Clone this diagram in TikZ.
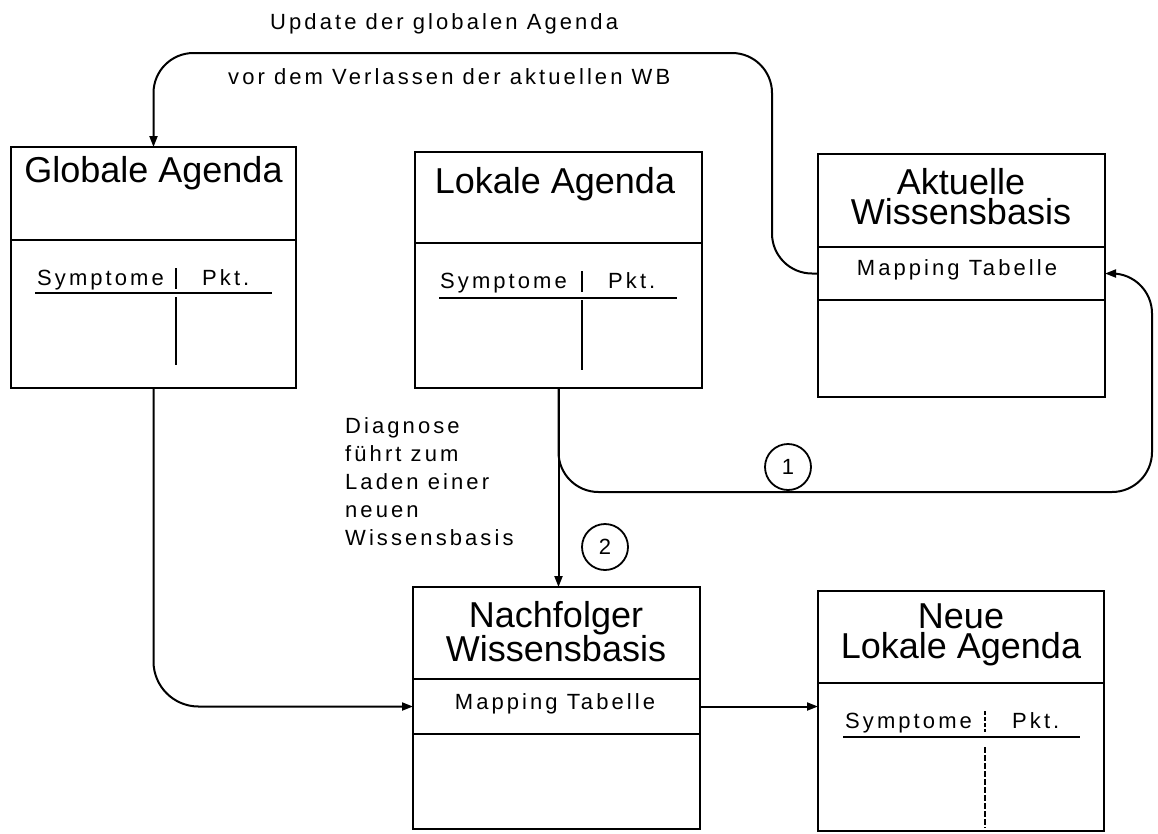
\documentclass[tikz,border=0pt]{standalone}
\usepackage{fontspec}
\setmainfont{Liberation Sans}
\newfontfamily\smallsp[LetterSpace=14]{Liberation Sans}
\usetikzlibrary{arrows.meta}
\begin{document}
\begin{tikzpicture}[x=1pt,y=-1pt,
  sec/.style={draw, line width=2.2pt, anchor=north west, inner sep=0pt, outer sep=0pt},
  ttl/.style={font=\fontsize{36}{30}\selectfont, align=center, inner sep=0pt},
  lbl/.style={font=\smallsp\fontsize{22}{28}\selectfont, inner sep=0pt},
  conn/.style={line width=2pt, rounded corners=40pt},
  arr/.style={-{Triangle[length=11pt,width=8pt]}},
  num/.style={draw, circle, line width=1.8pt, minimum size=46pt, inner sep=0pt, font=\fontsize{22}{26}\selectfont},
  rulel/.style={line width=1.6pt},
  sepl/.style={line width=1.1pt}]
\useasboundingbox (0,0) rectangle (1158,833);

% Globale Agenda
\node[sec, minimum width=285pt, minimum height=93pt] (GAt) at (11,147) {};
\node[sec, minimum width=285pt, minimum height=148pt] (GAb) at (11,240) {};
\node[ttl, anchor=base] (GAtt) at (153.5,182) {Globale Agenda};
\node[lbl, anchor=base west] (GAs) at (37,285) {Symptome};
\node[lbl, anchor=base west] (GAp) at (202,285) {Pkt.};
\draw[sepl] (176,268) -- (176,289);
\draw[rulel] (35,293) -- (272,293);
\draw[sepl] (176,297) -- (176,365);

% Lokale Agenda
\node[sec, minimum width=287pt, minimum height=91pt] (LAt) at (415,152) {};
\node[sec, minimum width=287pt, minimum height=145pt] (LAb) at (415,243) {};
\node[ttl, anchor=base] (LAtt) at (555,193) {Lokale Agenda};
\node[lbl, anchor=base west] (LAs) at (440,288) {Symptome};
\node[lbl, anchor=base west] (LAp) at (608,288) {Pkt.};
\draw[sepl] (582,271) -- (582,292);
\draw[rulel] (439,298) -- (677,298);
\draw[sepl] (582,300) -- (582,370);

% Aktuelle Wissensbasis
\node[sec, minimum width=287pt, minimum height=93pt] (AWt) at (818,154) {};
\node[sec, minimum width=287pt, minimum height=53pt] (AWm) at (818,247) {};
\node[sec, minimum width=287pt, minimum height=97pt] (AWb) at (818,300) {};
\node[ttl, anchor=north] (AWtt) at (961,168) {Aktuelle\\Wissensbasis};
\node[lbl, anchor=base] (AWml) at (957,275) {Mapping Tabelle};

% Nachfolger Wissensbasis
\node[sec, minimum width=287pt, minimum height=92pt] (NWt) at (413,587) {};
\node[sec, minimum width=287pt, minimum height=55pt] (NWm) at (413,679) {};
\node[sec, minimum width=287pt, minimum height=95pt] (NWb) at (413,734) {};
\node[ttl, anchor=north] (NWtt) at (556,601) {Nachfolger\\Wissensbasis};
\node[lbl, anchor=base] (NWml) at (555,709) {Mapping Tabelle};

% Neue Lokale Agenda
\node[sec, minimum width=286pt, minimum height=92pt] (NLt) at (818,591) {};
\node[sec, minimum width=286pt, minimum height=148pt] (NLb) at (818,683) {};
\node[ttl, anchor=north] (NLtt) at (961,604) {Neue\\Lokale Agenda};
\node[lbl, anchor=base west] (NLs) at (845,728) {Symptome};
\node[lbl, anchor=base west] (NLp) at (1012,728) {Pkt.};
\draw[sepl, dash pattern=on 4pt off 2pt] (985,711) -- (985,732);
\draw[rulel] (843,737) -- (1080,737);
\draw[sepl, dash pattern=on 6pt off 2pt] (985,747) -- (985,828);

% top labels
\node[lbl, anchor=base west] (up1) at (270,29) {Update der globalen Agenda};
\node[lbl, anchor=base west] (up2) at (228,84) {vor dem Verlassen der aktuellen WB};

% Diagnose label
\node[lbl, anchor=north west, align=left] (diag) at (345,417)
  {Diagnose\\führt zum\\Laden einer\\neuen\\Wissensbasis};

% coordinates
\coordinate (cTop) at (772,53);
\coordinate (cR) at (1152,492);

% connectors
\draw[conn, arr] (AWm.west) -| (cTop) -| (GAt.north);
\draw[conn, arr] (LAb.south) |- (cR) |- (AWm.east);
\draw[line width=2pt, arr] (LAb.south) -- (LAb.south |- NWt.north);
\draw[conn, arr, rounded corners=45pt] (GAb.south) |- (NWm.west);
\draw[line width=2pt, arr] (NWm.east) -- (NWm.east -| NLb.west);

% numbered circles
\node[num] (n1) at (788,467) {1};
\node[num] (n2) at (605,547) {2};
\end{tikzpicture}
\end{document}
